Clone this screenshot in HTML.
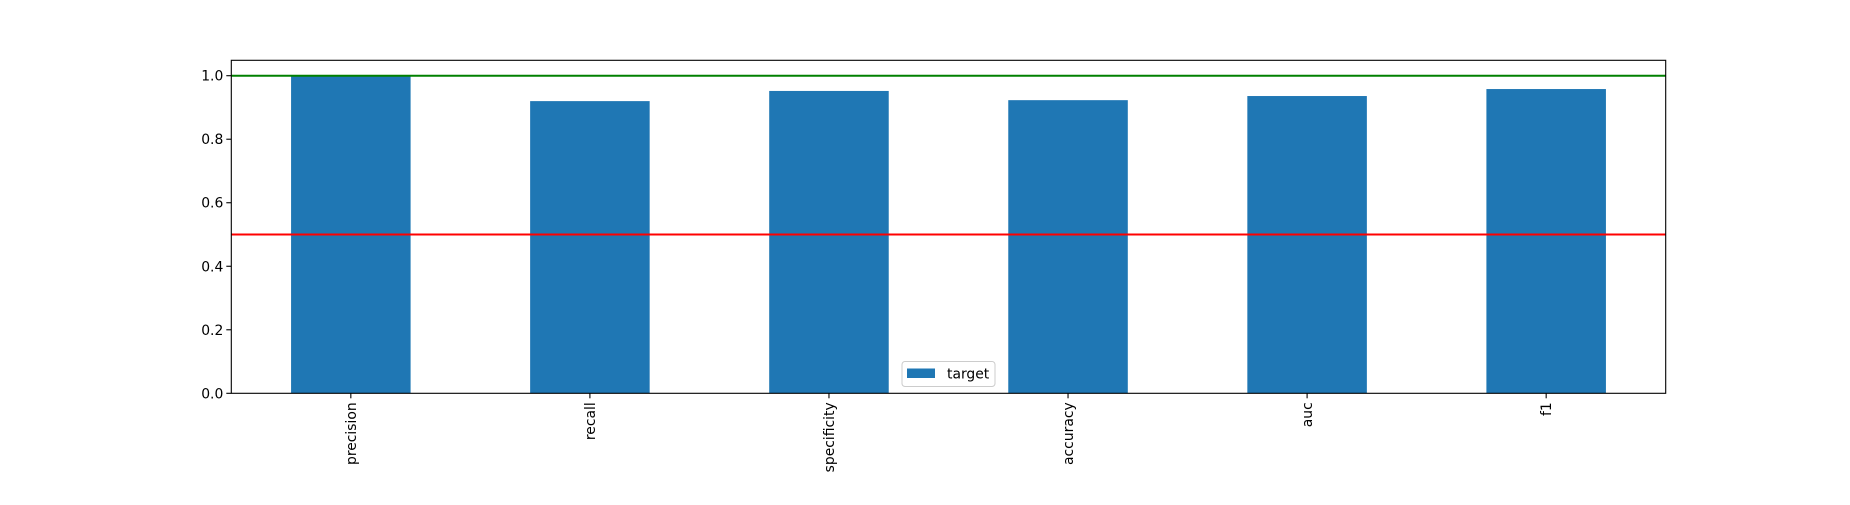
<!DOCTYPE html>
<html><head><meta charset="utf-8">
<style>
html,body{margin:0;padding:0;background:#fff;}
svg text{font-family:"DejaVu Sans","Liberation Sans",sans-serif;font-size:13.9px;fill:#000;}
</style></head>
<body>
<svg id="chart" width="1850" height="500" xmlns="http://www.w3.org/2000/svg"></svg>
<script>
const categories = ["precision","recall","specificity","accuracy","auc","f1"];
const values = [1.0, 0.920, 0.952, 0.923, 0.936, 0.958];
const yTicks = [0.0,0.2,0.4,0.6,0.8,1.0];
const yTickLabels = ["0.0","0.2","0.4","0.6","0.8","1.0"];
const hLines = [1.0, 0.5];
const hLineColors = ["#008000","#ff0000"];
const seriesName = "target";

const svg = document.getElementById('chart');
const NS = "http://www.w3.org/2000/svg";
const L=231.3, R=1665.7, T=60.3, B=393.3;
const yMin=0, yMax=1.0485;
const xMin=-0.5, xMax=categories.length-0.5;
const xs = v => L + (v-xMin)/(xMax-xMin)*(R-L);
const ys = v => B - (v-yMin)/(yMax-yMin)*(B-T);
function mk(tag, attrs){const e=document.createElementNS(NS,tag);for(const k in attrs)e.setAttribute(k,attrs[k]);svg.appendChild(e);return e;}

values.forEach((v,i)=>{
  const x0=xs(i-0.25), x1=xs(i+0.25);
  const r=mk('rect',{x:x0,y:ys(v),width:x1-x0,height:ys(0)-ys(v),fill:'#1f77b4'});
  
  
});
hLines.forEach((h,i)=>{
  const l=mk('line',{x1:L,x2:R,y1:ys(h),y2:ys(h),stroke:hLineColors[i],'stroke-width':2});
  
  
});
const frame=mk('rect',{x:L,y:T,width:R-L,height:B-T,fill:'none',stroke:'#000','stroke-width':1.1});



yTicks.forEach((t,i)=>{
  const y=ys(t);
  const tk=mk('line',{x1:L-5,x2:L,y1:y,y2:y,stroke:'#000','stroke-width':1.1});
  
  
  const tx=mk('text',{x:L-8,y:y+5,'text-anchor':'end'});
  tx.textContent=yTickLabels[i];
  
  
});
categories.forEach((c,i)=>{
  const x=xs(i);
  const tk=mk('line',{x1:x,x2:x,y1:B,y2:B+5,stroke:'#000','stroke-width':1.1});
  
  
  const tx=mk('text',{x:0,y:0,'text-anchor':'end',transform:`translate(${x+5},${B+9}) rotate(-90)`});
  tx.textContent=c;
  
  
});

const lg=mk('g',{});


const lb=document.createElementNS(NS,'rect');
lb.setAttribute('x',902);lb.setAttribute('y',361.5);lb.setAttribute('width',93);lb.setAttribute('height',25);
lb.setAttribute('rx',3);lb.setAttribute('fill','#fff');lb.setAttribute('fill-opacity','0.8');lb.setAttribute('stroke','#ccc');
lg.appendChild(lb);
const sw=document.createElementNS(NS,'rect');
sw.setAttribute('x',907);sw.setAttribute('y',368.5);sw.setAttribute('width',28);sw.setAttribute('height',9.5);sw.setAttribute('fill','#1f77b4');


lg.appendChild(sw);
const lt=document.createElementNS(NS,'text');
lt.setAttribute('x',947);lt.setAttribute('y',378.5);
lt.textContent=seriesName;


lg.appendChild(lt);
</script>
</body></html>
